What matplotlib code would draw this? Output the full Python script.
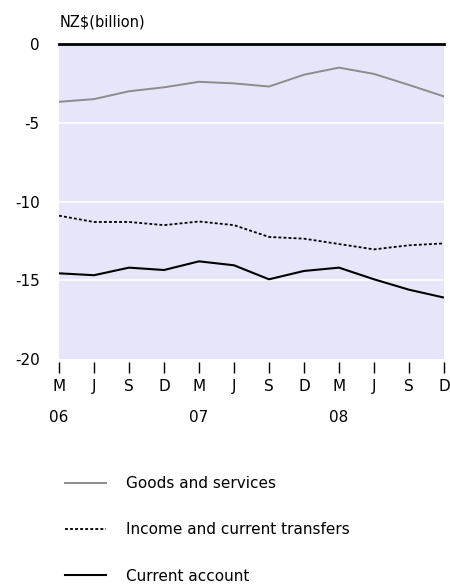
import matplotlib
matplotlib.use("Agg")
import matplotlib.pyplot as plt
import matplotlib.transforms as mtransforms

# quarterly values, Mar 2006 - Dec 2008 (annual totals, NZ$ billion)
quarters = ["M", "J", "S", "D", "M", "J", "S", "D", "M", "J", "S", "D"]
years = ["06", "07", "08"]
year_pos = [0, 4, 8]

goods_services = [-3.67, -3.5, -3.0, -2.75, -2.4, -2.5, -2.7, -1.95, -1.5, -1.9, -2.6, -3.33]
income_transfers = [-10.9, -11.3, -11.3, -11.5, -11.27, -11.5, -12.25, -12.36, -12.7, -13.04, -12.78, -12.66]
current_account = [-14.56, -14.68, -14.2, -14.35, -13.8, -14.05, -14.94, -14.41, -14.2, -14.94, -15.6, -16.1]

y_ticks = [0, -5, -10, -15, -20]

plt.rcParams["font.family"] = ["DejaVu Sans"]

fig = plt.figure(figsize=(4.5, 5.88), dpi=100)
ax = fig.add_axes([59 / 450, 1 - 359 / 588, 385 / 450, 315 / 588])

x = list(range(len(quarters)))
ax.set_facecolor("#e6e6fa")
ax.set_xlim(0, len(quarters) - 1)
ax.set_ylim(-20, 0)

for s in ax.spines.values():
    s.set_visible(False)
# small gap between plot area and tick marks
ax.spines["bottom"].set_position(("outward", 2.5))

# white gridlines and black zero line
for v in y_ticks[1:-1]:
    ax.axhline(v, color="white", lw=1.2, zorder=1)
ax.axhline(0, color="black", lw=2, zorder=3, clip_on=False)

ax.plot(x, goods_services, color="#8c8c8c", lw=1.4, label="Goods and services", zorder=2)
ax.plot(x, income_transfers, color="black", lw=1.3, linestyle=(0, (1.6, 1.2)),
        label="Income and current transfers", zorder=2)
ax.plot(x, current_account, color="black", lw=1.5, label="Current account", zorder=2)

ax.set_yticks(y_ticks)
ax.set_yticklabels([str(v) for v in y_ticks], fontsize=11)
ax.tick_params(axis="y", length=0, pad=14)

ax.set_xticks(x)
ax.set_xticklabels(quarters, fontsize=11)
ax.tick_params(axis="x", length=8, width=1, color="black", pad=4, direction="out")

trans = mtransforms.blended_transform_factory(ax.transData, fig.transFigure)
for yr, p in zip(years, year_pos):
    ax.text(p, 1 - 418 / 588, yr, transform=trans, ha="center", va="center", fontsize=11)

fig.text(60 / 450, 1 - 22 / 588, "NZ$(billion)", fontsize=10.5, va="center", ha="left")

fig.legend(loc="upper left", bbox_to_anchor=(65 / 450, 1 - 476 / 588), frameon=False,
           fontsize=11, handlelength=2.7, handletextpad=1.3, labelspacing=2.05,
           borderaxespad=0, borderpad=0)

fig.savefig("out.png", dpi=100)
